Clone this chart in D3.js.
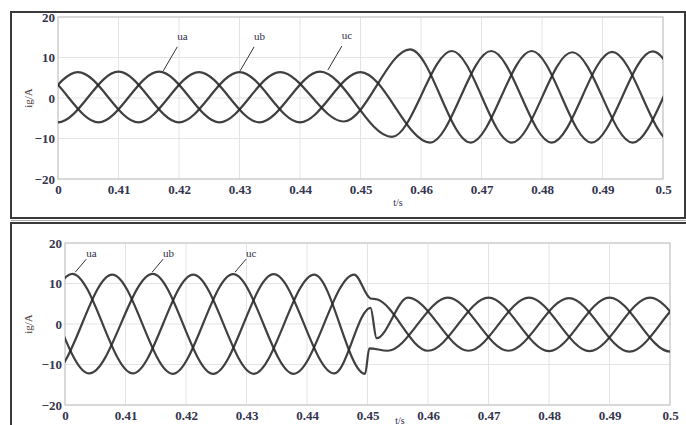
<!DOCTYPE html>
<html><head><meta charset="utf-8">
<script src="https://cdn.jsdelivr.net/npm/d3@7"></script>
<style>body{margin:0;background:#fff}svg{display:block}</style>
</head><body>
<svg id="chart" width="686" height="425"></svg>
<script>
// ---------- data ----------
const xTicks = [0.40, 0.41, 0.42, 0.43, 0.44, 0.45, 0.46, 0.47, 0.48, 0.49, 0.50];
const xTickLabels = ["0", "0.41", "0.42", "0.43", "0.44", "0.45", "0.46", "0.47", "0.48", "0.49", "0.5"];
const yTicks = [-20, -10, 0, 10, 20];
const phaseNames = ["ua", "ub", "uc"];

// Top panel: waveform turning points [t (s), ig (A)]
const topUa = [[0.3867, -6.0], [0.3967, 6.4], [0.4067, -6.0], [0.4167, 6.5], [0.4267, -6.0], [0.4367, 6.4], [0.4472, -5.8],
               [0.4582, 12.0], [0.4682, -11.0], [0.4783, 11.6], [0.4882, -11.0], [0.4983, 11.5], [0.5083, -11.0], [0.5183, 11.5]];
const topUb = [[0.3800, -6.0], [0.3900, 6.4], [0.4000, -6.0], [0.4100, 6.5], [0.4200, -6.0], [0.4300, 6.4], [0.4400, -6.0],
               [0.4500, 6.4], [0.4615, -11.0], [0.4716, 11.6], [0.4816, -11.0], [0.4916, 11.4], [0.5016, -11.0], [0.5116, 11.4]];
const topUc = [[0.3833, 6.4], [0.3933, -6.0], [0.4033, 6.4], [0.4133, -6.0], [0.4233, 6.4], [0.4333, -6.0], [0.4433, 6.5],
               [0.4552, -9.6], [0.4651, 11.6], [0.4750, -11.0], [0.4850, 11.3], [0.4950, -11.0], [0.5050, 11.0], [0.5150, -11.0]];
// label anchor points [t, ig] for ua, ub, uc
const topLabelAnchors = [[0.4174, 6.7], [0.4301, 6.7], [0.4446, 6.9]];

// Bottom panel
const botUa = [[0.3812, 12.2], [0.3912, -12.2], [0.4012, 12.4], [0.4112, -12.2], [0.4212, 12.2], [0.4312, -12.3], [0.4412, 12.2],
               [0.4496, -12.3], [0.4503, -6.0], [0.4533, -6.6], [0.4633, 6.5], [0.4733, -6.6], [0.4833, 6.4],
               [0.4933, -6.8], [0.5033, 6.4], [0.5133, -6.8]];
const botUb = [[0.3840, -12.2], [0.3940, 12.2], [0.4040, -12.2], [0.4145, 12.4], [0.4245, -12.3], [0.4345, 12.3], [0.4445, -12.2],
               [0.4505, 4.0], [0.4515, -3.5], [0.4567, 6.5], [0.4667, -6.6], [0.4767, 6.5], [0.4867, -6.7],
               [0.4967, 6.5], [0.5067, -6.7], [0.5167, 6.5]];
const botUc = [[0.3878, 12.2], [0.3978, -12.2], [0.4078, 12.2], [0.4178, -12.3], [0.4278, 12.3], [0.4378, -12.3], [0.4478, 12.2],
               [0.4505, 6.3], [0.4515, 6.1], [0.4600, -6.6], [0.4700, 6.5], [0.4800, -6.7], [0.4900, 6.5],
               [0.5000, -6.8], [0.5100, 6.5], [0.5200, -6.8]];
const botLabelAnchors = [[0.4017, 12.8], [0.4144, 12.8], [0.4281, 12.8]];

// ---------- drawing ----------
const svg = d3.select("#chart");
const FONT = "'Liberation Serif', 'DejaVu Serif', serif";
const TICK_COLOR = "#34344e";

// panel frames
svg.append("rect").attr("x", 11).attr("y", 12).attr("width", 674).attr("height", 206)
  .attr("fill", "none").attr("stroke", "#3a3a3a").attr("stroke-width", 2);
svg.append("line").attr("x1", 11).attr("x2", 686).attr("y1", 220.5).attr("y2", 220.5)
  .attr("stroke", "#aaa").attr("stroke-width", 1);
svg.append("rect").attr("x", 11).attr("y", 223).attr("width", 690).attr("height", 230)
  .attr("fill", "none").attr("stroke", "#3a3a3a").attr("stroke-width", 2);

function drawPanel(cfg, series, anchors) {
  const g = svg.append("g");
  const x = d3.scaleLinear().domain([0.40, 0.50]).range([cfg.left, cfg.right]);
  const y = d3.scaleLinear().domain([-20, 20]).range([cfg.bottom, cfg.top]);

  // grid
  g.append("g").selectAll("line.vx").data(xTicks).join("line")
    .attr("x1", d => x(d)).attr("x2", d => x(d)).attr("y1", cfg.top).attr("y2", cfg.bottom)
    .attr("stroke", "#e4e4e4").attr("stroke-width", 1);
  g.append("g").selectAll("line.hy").data(yTicks).join("line")
    .attr("y1", d => y(d)).attr("y2", d => y(d)).attr("x1", cfg.left).attr("x2", cfg.right)
    .attr("stroke", "#e4e4e4").attr("stroke-width", 1);
  g.append("rect").attr("x", cfg.left).attr("y", cfg.top)
    .attr("width", cfg.right - cfg.left).attr("height", cfg.bottom - cfg.top)
    .attr("fill", "none").attr("stroke", "#c8c8c8").attr("stroke-width", 1.2);

  // axes
  const xAxis = d3.axisBottom(x).tickValues(xTicks).tickSize(0).tickPadding(6)
    .tickFormat((d, i) => xTickLabels[i]);
  const gx = g.append("g").attr("transform", `translate(0,${cfg.bottom})`).call(xAxis);
  const yAxis = d3.axisLeft(y).tickValues(yTicks).tickSize(0).tickPadding(3);
  const gy = g.append("g").attr("transform", `translate(${cfg.left},0)`).call(yAxis);
  [gx, gy].forEach(a => {
    a.select(".domain").remove();
    a.selectAll("text").attr("font-family", FONT).attr("font-size", 13)
      .attr("font-weight", "bold").attr("fill", TICK_COLOR);
  });

  // clip + waveforms
  const clipId = "clip" + cfg.id;
  g.append("clipPath").attr("id", clipId).append("rect")
    .attr("x", cfg.left).attr("y", cfg.top).attr("width", cfg.right - cfg.left).attr("height", cfg.bottom - cfg.top);
  const line = d3.line().x(d => x(d[0])).y(d => y(d[1])).curve(d3.curveMonotoneX);
  g.append("g").attr("clip-path", `url(#${clipId})`).selectAll("path").data(series).join("path")
    .attr("d", line).attr("fill", "none").attr("stroke", "#262626").attr("stroke-width", 2.2)
    .attr("stroke-opacity", 0.88).attr("stroke-linejoin", "round");

  // phase labels with pointers
  anchors.forEach((a, i) => {
    const ax = x(a[0]), ay = y(a[1]);
    g.append("line").attr("x1", ax).attr("y1", ay).attr("x2", ax + cfg.ptr[0]).attr("y2", ay + cfg.ptr[1])
      .attr("stroke", "#333").attr("stroke-width", 1);
    g.append("text").attr("x", ax + cfg.lbl[0]).attr("y", ay + cfg.lbl[1]).text(phaseNames[i])
      .attr("font-family", FONT).attr("font-size", 11).attr("fill", "#2d2d4a");
  });

  // axis titles
  g.append("text").attr("transform", `translate(${cfg.ylabX},${(cfg.top + cfg.bottom) / 2}) rotate(-90)`)
    .attr("text-anchor", "middle").attr("font-family", FONT).attr("font-size", 11).attr("fill", "#4a3a3a")
    .text("ig/A");
  g.append("text").attr("x", cfg.tX).attr("y", cfg.tY).attr("text-anchor", "middle")
    .attr("font-family", FONT).attr("font-size", 10).attr("fill", "#2d2d4a").text("t/s");
}

drawPanel({id: "top", left: 58, right: 663, top: 17, bottom: 179, ylabX: 32,
           ptr: [14, -24], lbl: [14, -31], tX: 398, tY: 206},
          [topUa, topUb, topUc], topLabelAnchors);
drawPanel({id: "bot", left: 65, right: 670, top: 243, bottom: 405, ylabX: 32,
           ptr: [11, -13], lbl: [11, -15], tX: 400, tY: 424},
          [botUa, botUb, botUc], botLabelAnchors);
</script>
</body></html>
